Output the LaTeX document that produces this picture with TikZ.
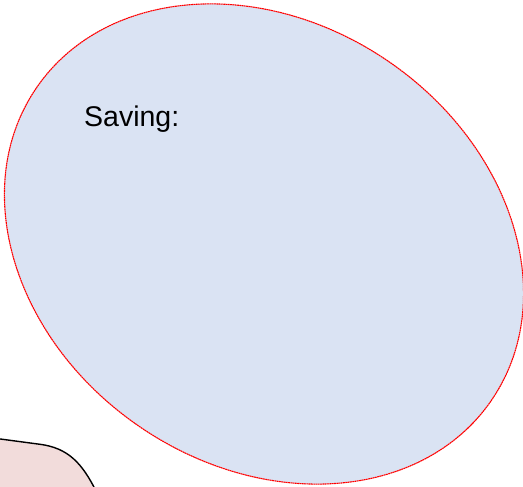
\documentclass[tikz,border=0pt]{standalone}
\usepackage{fontspec}
\setmainfont{Liberation Sans}
\usepackage{tikz}
\usepackage{xcolor}
\usetikzlibrary{arrows.meta,positioning,calc}
\definecolor{saveblue}{HTML}{DAE3F3}
\definecolor{notepink}{HTML}{F2DCDB}

\begin{document}
\begin{tikzpicture}[x=1pt,y=1pt]
        \useasboundingbox (0,0) rectangle (523,487);
        \clip (0,0) rectangle (523,487);
        \draw[fill=saveblue, draw=red, line width=1.1pt, dash pattern=on 1.8pt off 0.5pt]
          (264,243) ellipse[x radius=276, y radius=221, rotate=-34.6];
        \node[anchor=base west, inner sep=0pt, font=\fontsize{28.5}{32}\selectfont] (saving) at (84,360) {Saving:};
        \draw[fill=notepink, line width=1.4pt] (-5,48.7) -- (40,42.7)
          .. controls (68,39) and (82,24) .. (96,-4) -- (-5,-4) -- cycle;
      \end{tikzpicture}
\end{document}
